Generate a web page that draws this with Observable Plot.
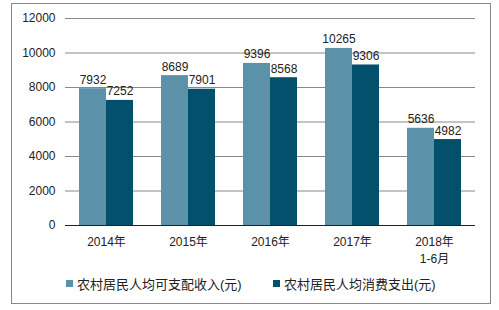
<!DOCTYPE html>
<html><head><meta charset="utf-8">
<script src="https://cdn.jsdelivr.net/npm/d3@7"></script>
<script src="https://cdn.jsdelivr.net/npm/@observablehq/plot@0.6"></script>
<style>
body{margin:0;background:#fff;font-family:"Liberation Sans","Noto Sans CJK SC",sans-serif;}
#wrap{position:relative;width:499px;height:310px;overflow:hidden;}
#frame{position:absolute;left:11px;top:3px;width:478px;height:299px;border:1px solid #888;box-sizing:content-box;}
#chart{position:absolute;left:0;top:0;}
#legend{position:absolute;top:274px;left:0;width:499px;font-size:13px;color:#222;}
.item{position:absolute;display:flex;align-items:center;white-space:nowrap;}
.sw{width:7px;height:7px;margin-right:4px;}
</style></head>
<body><div id="wrap"><div id="frame"></div><div id="chart"></div><div id="legend"></div></div>
<script>
const years = ["2014年","2015年","2016年","2017年","2018年\n1-6月"];
const series = ["农村居民人均可支配收入(元)","农村居民人均消费支出(元)"];
const income = [7932, 8689, 9396, 10265, 5636];
const spend = [7252, 7901, 8568, 9306, 4982];
const colors = ["#5b91a9","#02506b"];
const yTicks = [0,2000,4000,6000,8000,10000,12000];

const data = [];
years.forEach((y,i)=>{
  data.push({year:y, s:series[0], v:income[i]});
  data.push({year:y, s:series[1], v:spend[i]});
});

const chart = Plot.plot({
  width:499, height:270,
  marginLeft:63, marginRight:22, marginTop:18, marginBottom:45,
  style:{fontFamily:'"Liberation Sans","Noto Sans CJK SC",sans-serif', fontSize:"12px", color:"#333", background:"transparent"},
  fx:{domain:years, padding:0, label:null},
  x:{domain:series, paddingInner:0, paddingOuter:0.5, axis:null},
  y:{domain:[0,12000], label:null},
  color:{domain:series, range:colors},
  marks:[
    Plot.ruleY(yTicks.slice(1), {stroke:"#888", strokeWidth:1}),
    Plot.barY(data, {fx:"year", x:"s", y:"v", fill:"s"}),
    Plot.text(data, {fx:"year", x:"s", y:"v", text:d=>String(d.v), lineAnchor:"bottom", dy:-5, fontSize:12, fill:"#222"}),
    Plot.ruleY([0], {stroke:"#222", strokeWidth:1}),
    Plot.axisY(yTicks, {tickSize:0, tickPadding:10, fontSize:12, fill:"#222", label:null, tickFormat:d=>String(d)}),
    Plot.axisFx({anchor:"bottom", tickSize:0, tickPadding:9, fontSize:12, fill:"#222", lineHeight:1.4, label:null})
  ]
});
document.getElementById("chart").appendChild(chart);

const leg = document.getElementById("legend");
const lx = [66, 273];
series.forEach((s,i)=>{
  const it = document.createElement("div");
  it.className="item"; it.style.left = lx[i]+"px";
  it.innerHTML = `<span class="sw" style="background:${colors[i]}"></span><span>${s}</span>`;
  leg.appendChild(it);
});
</script></body></html>
